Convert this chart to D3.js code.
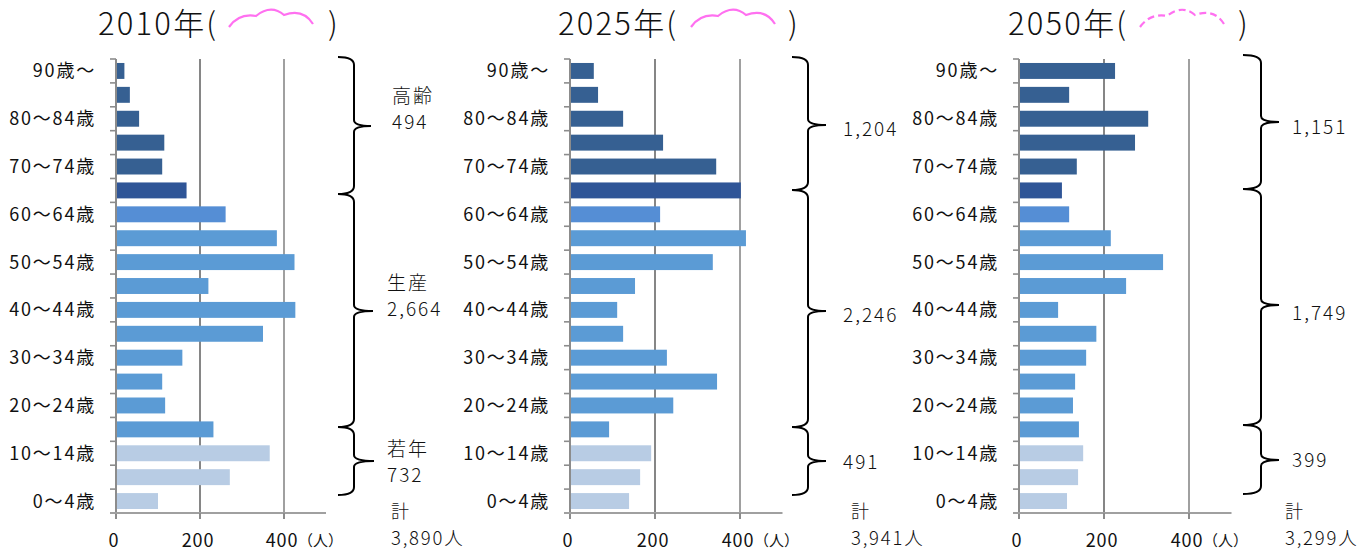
<!DOCTYPE html>
<html lang="ja"><head><meta charset="utf-8">
<script src="https://cdn.jsdelivr.net/npm/d3@7/dist/d3.min.js"></script>
<style>html,body{margin:0;padding:0;background:#fff}svg{display:block}
text{font-family:"Noto Sans CJK JP","Noto Sans",sans-serif;fill:#111}</style></head><body>
<svg id="c" width="1360" height="554"></svg>
<script>
const ageGroups = ["90歳～","85～89歳","80～84歳","75～79歳","70～74歳","65～69歳","60～64歳","55～59歳","50～54歳","45～49歳","40～44歳","35～39歳","30～34歳","25～29歳","20～24歳","15～19歳","10～14歳","5～9歳","0～4歳"];
const shownAgeLabels = ["90歳～","80～84歳","70～74歳","60～64歳","50～54歳","40～44歳","30～34歳","20～24歳","10～14歳","0～4歳"];
const values2010 = [20,33,55,115,110,168,261,383,425,220,427,350,158,110,117,232,366,271,100];
const values2025 = [56,66,125,219,344,402,212,414,336,153,111,125,228,346,243,92,191,165,139];
const values2050 = [226,118,304,273,136,101,118,216,339,252,92,182,158,132,127,141,151,139,113];
const xTicks = [0,200,400];
const titles = ["2010年(","2025年(","2050年("];
const totals = ["3,890人","3,941人","3,299人"];
const groupTotals2010 = ["494","2,664","732"];
const groupTotals2025 = ["1,204","2,246","491"];
const groupTotals2050 = ["1,151","1,749","399"];
const groupNames2010 = ["高齢","生産","若年"];

const barColor = i => i===5 ? "#2f5597" : i<5 ? "#366092" : i===6 ? "#558ed5" : i<16 ? "#5b9bd5" : "#b8cce4";
const svg = d3.select("#c");

const panels = [
 {v:values2010,g:groupTotals2010,names:groupNames2010,x0:116,w:210,title:98,closeX:328,total:391,dash:null,cloud:229,
  brace:{l:338,s:354,spans:[[57,194,126],[194,427,311],[427,495,461]],r:[371,373,374]},
  lab:[[392,122],[387,309],[387,475]]},
 {v:values2025,g:groupTotals2025,x0:570,w:212.5,title:558,closeX:788,total:851,dash:null,cloud:691,
  brace:{l:792,s:808,spans:[[57,190,125],[190,427,311],[427,495,461]],r:[826,826,826]},
  lab:[[843,129],[843,315],[843,462]]},
 {v:values2050,g:groupTotals2050,x0:1019,w:212.5,title:1008,closeX:1238,total:1285,dash:"7 4",cloud:1140,
  brace:{l:1243,s:1261,spans:[[55,189,122],[189,425,305],[425,494,460]],r:[1279,1279,1279]},
  lab:[[1292,127],[1292,313],[1292,460]]}
];

const y = d3.scaleBand().domain(ageGroups).range([59,513]).paddingInner(0.333).paddingOuter(0.1665);
const step = y.step();

panels.forEach((p,pi)=>{
  const x = d3.scaleLinear().domain([0,500]).range([p.x0,p.x0+p.w]);
  const g = svg.append("g");
  g.selectAll("line.grid").data(xTicks.slice(1)).join("line")
    .attr("x1",d=>x(d)).attr("x2",d=>x(d)).attr("y1",59).attr("y2",513)
    .attr("stroke",(d,i)=>i?"#a0a0a0":"#868686").attr("stroke-width",2);
  g.selectAll("rect").data(p.v).join("rect")
    .attr("x",x(0)+1).attr("width",d=>x(d)-x(0)-1)
    .attr("y",(d,i)=>y(ageGroups[i])).attr("height",y.bandwidth())
    .attr("fill",(d,i)=>barColor(i));
  g.append("line").attr("x1",x(0)).attr("x2",x(0)).attr("y1",59).attr("y2",519).attr("stroke","#8c8c8c").attr("stroke-width",2);
  d3.range(ageGroups.length+1).forEach(i=>{
    g.append("line").attr("x1",x(0)-6).attr("x2",x(0)).attr("y1",59+i*step).attr("y2",59+i*step).attr("stroke","#8c8c8c").attr("stroke-width",1.6);
  });
  g.append("line").attr("x1",x(0)-6).attr("x2",x(500)).attr("y1",513).attr("y2",513).attr("stroke","#a0a0a0").attr("stroke-width",2);
  g.selectAll("line.t").data(xTicks.slice(1)).join("line").attr("class","t")
    .attr("x1",d=>x(d)).attr("x2",d=>x(d)).attr("y1",513).attr("y2",519).attr("stroke","#8c8c8c").attr("stroke-width",2);
  g.selectAll("text.y").data(shownAgeLabels).join("text").attr("class","y")
    .attr("x",x(0)-20).attr("y",d=>y(d)+y.bandwidth()/2+6.5).attr("text-anchor","end")
    .attr("font-size",18).attr("letter-spacing",1.8).text(d=>d);
  g.selectAll("text.x").data(xTicks).join("text").attr("class","x")
    .attr("x",d=>x(d)-2).attr("y",547).attr("text-anchor","middle").attr("font-size",18).attr("letter-spacing",0.8).text(d=>d);
  g.append("text").attr("x",x(400)+14).attr("y",546).attr("font-size",15).attr("fill","#444").text("（人）");
  svg.append("text").attr("x",p.title).attr("y",35).attr("font-size",31).attr("font-weight",300).attr("letter-spacing",2.2).text(titles[pi]);
  svg.append("text").attr("x",p.closeX).attr("y",35).attr("font-size",31).attr("font-weight",300).text(")");
  const c=p.cloud;
  svg.append("path").attr("fill","none").attr("stroke","#ff70f0").attr("stroke-width",2.2)
    .attr("stroke-dasharray",p.dash)
    .attr("d",`M${c} 27 Q${c+10} 13 ${c+27} 16 Q${c+42} 4 ${c+55} 15 Q${c+74} 8 ${c+84} 24`);
  p.brace.spans.forEach((s,i)=>{
    const [t,b,m]=s, L=p.brace.l, S=p.brace.s, R=p.brace.r[i];
    svg.append("path").attr("fill","none").attr("stroke","#000").attr("stroke-width",2)
      .attr("d",`M${L} ${t} Q${S} ${t} ${S} ${t+8} L${S} ${m-6} Q${S} ${m} ${R} ${m} Q${S} ${m} ${S} ${m+6} L${S} ${b-8} Q${S} ${b} ${L} ${b}`);
  });
  const lt=(x0,yy,s,fs=19,ls=2)=>svg.append("text").attr("x",x0).attr("y",yy).attr("font-size",fs).attr("font-weight",300).attr("letter-spacing",ls).text(s);
  p.lab.forEach((l,i)=>{
    lt(l[0],l[1]+7,p.g[i]);
    if(p.names) lt(l[0],l[1]-19,p.names[i]);
  });
  lt(p.total,518,"計",18);
  lt(p.total,545,totals[pi],18.5,1.8);
});
</script></body></html>
